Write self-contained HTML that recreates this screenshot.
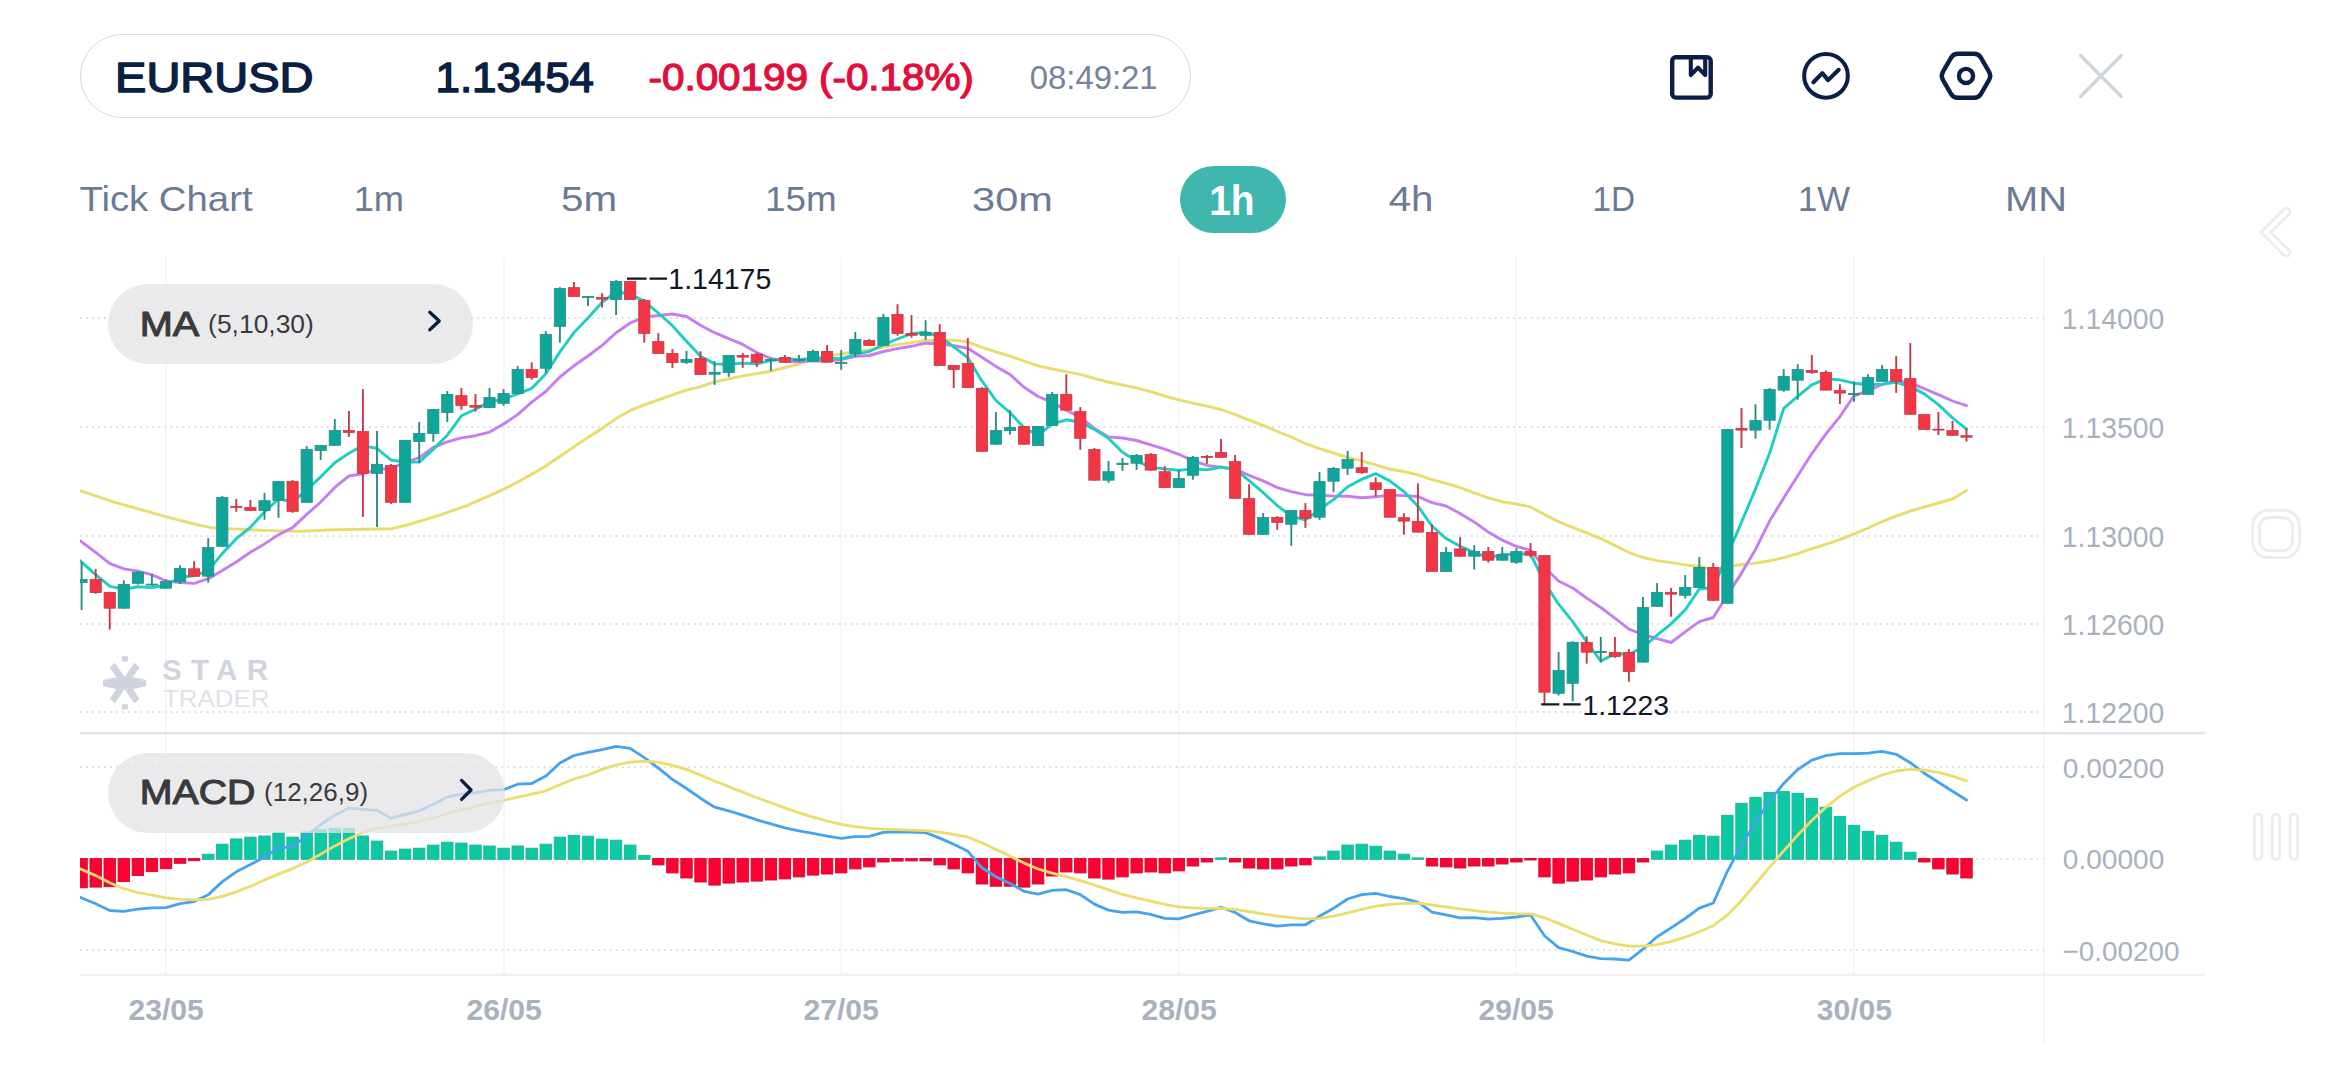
<!DOCTYPE html><html lang="en"><head><meta charset="utf-8"><title>EURUSD 1h chart</title><style>
*{box-sizing:border-box;margin:0;padding:0}
html,body{width:2340px;height:1080px;background:#fff;overflow:hidden}
body{position:relative;font-family:"Liberation Sans",sans-serif;}
.abs{position:absolute;white-space:nowrap;line-height:1}
#hdr{left:80.2px;top:34.3px;width:1111.3px;height:83.3px;border:1.4px solid #d5d8e0;border-radius:42px;background:#fff}
#pill1h{left:1180px;top:166px;width:106.3px;height:67.1px;border-radius:34px;background:#3fb6ae}
.ipill{background:rgba(227,228,231,.76);border-radius:40px}
</style></head><body>
<div id="hdr" class="abs"></div>
<div id="pill1h" class="abs"></div>
<svg class="abs" style="left:0;top:0" width="2340" height="140" viewBox="0 0 2340 140" fill="none" stroke="#0b1f46" stroke-width="4.4" stroke-linejoin="round" stroke-linecap="round">
<rect x="1672.2" y="57.2" width="38.5" height="40.4" rx="3.6"/>
<path d="M1690.8 57.5V75.1L1698 67.6L1705.2 75.1V57.5" stroke-width="4.1"/>
<circle cx="1826" cy="75.8" r="21.85" stroke-width="4"/>
<path d="M1813.4 82.3L1822.3 73.1L1828.1 80.1L1838.7 69.8" stroke-width="4.1"/>
<path d="M1989.1 71.8Q1991.4 75.8 1989.1 79.8L1981.0 93.8Q1978.7 97.8 1974.1 97.8L1957.9 97.8Q1953.3 97.8 1951.0 93.8L1942.9 79.8Q1940.6 75.8 1942.9 71.8L1951.0 57.8Q1953.3 53.8 1957.9 53.8L1974.1 53.8Q1978.7 53.8 1981.0 57.8Z"/>
<circle cx="1966" cy="75.9" r="7.1" stroke-width="4.3"/>
<path d="M2080.6 55.55L2121.2 96.4M2121.2 55.55L2080.6 96.4" stroke="#d1d5dc" stroke-width="3.6"/>
</svg>
<svg class="abs" style="left:2240px;top:190px" width="80" height="700" viewBox="2240 190 80 700" fill="none">
<g stroke="#ececec" stroke-linecap="round" stroke-linejoin="miter" stroke-miterlimit="10">
<path d="M2286.4 211.9L2266 232.2L2286.4 252.6" stroke-width="10"/>
<path d="M2286.4 211.9L2266 232.2L2286.4 252.6" stroke="#fff" stroke-width="4.4"/>
</g>
<rect x="2252.6" y="510.4" width="46.9" height="47.2" rx="15.5" stroke="#ececec" stroke-width="2.8"/>
<rect x="2259.5" y="517.5" width="33.1" height="33.1" rx="10" stroke="#ececec" stroke-width="2.8"/>
<g stroke="#ececec" stroke-width="2.7">
<rect x="2254.4" y="814.1" width="7.5" height="45.6" rx="3.75"/>
<rect x="2272.2" y="814.1" width="7.5" height="45.6" rx="3.75"/>
<rect x="2290.1" y="814.1" width="7.5" height="45.6" rx="3.75"/>
</g>
</svg>
<svg id="chart" class="abs" style="left:0;top:0" width="2340" height="1080" viewBox="0 0 2340 1080"><defs><clipPath id="cp"><rect x="80" y="250" width="1970" height="730"/></clipPath></defs>
<line x1="166" y1="257" x2="166" y2="975" stroke="#f3f4f6" stroke-width="1.5"/>
<line x1="504" y1="257" x2="504" y2="975" stroke="#f3f4f6" stroke-width="1.5"/>
<line x1="841" y1="257" x2="841" y2="975" stroke="#f3f4f6" stroke-width="1.5"/>
<line x1="1179" y1="257" x2="1179" y2="975" stroke="#f3f4f6" stroke-width="1.5"/>
<line x1="1516" y1="257" x2="1516" y2="975" stroke="#f3f4f6" stroke-width="1.5"/>
<line x1="1854" y1="257" x2="1854" y2="975" stroke="#f3f4f6" stroke-width="1.5"/>
<line x1="2044" y1="257" x2="2044" y2="1045" stroke="#f3f4f6" stroke-width="1.6"/>
<line x1="80" y1="318" x2="2044" y2="318" stroke="#dfe0e4" stroke-width="1.9" stroke-dasharray="1.9 4.12"/>
<line x1="80" y1="427" x2="2044" y2="427" stroke="#dfe0e4" stroke-width="1.9" stroke-dasharray="1.9 4.12"/>
<line x1="80" y1="536" x2="2044" y2="536" stroke="#dfe0e4" stroke-width="1.9" stroke-dasharray="1.9 4.12"/>
<line x1="80" y1="624" x2="2044" y2="624" stroke="#dfe0e4" stroke-width="1.9" stroke-dasharray="1.9 4.12"/>
<line x1="80" y1="712" x2="2044" y2="712" stroke="#dfe0e4" stroke-width="1.9" stroke-dasharray="1.9 4.12"/>
<line x1="80" y1="767" x2="2044" y2="767" stroke="#dfe0e4" stroke-width="1.9" stroke-dasharray="1.9 4.12"/>
<line x1="80" y1="858.9" x2="2044" y2="858.9" stroke="#dfe0e4" stroke-width="1.9" stroke-dasharray="1.9 4.12"/>
<line x1="80" y1="950" x2="2044" y2="950" stroke="#dfe0e4" stroke-width="1.9" stroke-dasharray="1.9 4.12"/>
<line x1="80" y1="733.3" x2="2205" y2="733.3" stroke="#e0e3eb" stroke-width="2.6"/>
<line x1="80" y1="974.8" x2="2205" y2="974.8" stroke="#ebedf1" stroke-width="1.9"/>
<g fill="#cfd4de">
<path d="M103 680 L116 677.3 L124.6 676.6 L133.2 677.3 L146.1 680 L146.1 686.3 L133.2 688.9 L124.6 689.6 L116 688.9 L103 686.3Z"/>
<path d="M109.8 667.4 L114.8 662.8 L139.4 698.8 L134.4 703.4Z"/>
<path d="M139.4 667.4 L134.4 662.8 L109.8 698.8 L114.8 703.4Z"/>
<rect x="121.9" y="656.2" width="6" height="5.3"/>
<rect x="121.9" y="704.2" width="6" height="5.3"/>
</g>
<text id="wm1" x="162" y="680" font-family="Liberation Sans, sans-serif" font-weight="700" font-size="29.5" fill="#cfd4de" textLength="106" lengthAdjust="spacing">STAR</text>
<text id="wm2" x="163" y="707.3" font-family="Liberation Sans, sans-serif" font-weight="400" font-size="24.5" fill="#dfe2e9" textLength="106.5" lengthAdjust="spacingAndGlyphs">TRADER</text>
<g clip-path="url(#cp)">
<polyline points="80.0,490.7 114.4,502.2 164.8,516.3 195.9,524.4 210.7,527.7 232.9,528.9 262.6,530.4 300.0,531.4 334.4,529.8 392.2,528.7 408.5,524.6 438.1,515.7 467.7,505.3 489.5,495.6 503.6,489.4 517.7,482.0 531.7,474.3 545.8,465.9 559.9,456.5 573.9,446.9 588.0,437.4 602.1,428.5 616.1,418.6 630.2,410.4 644.3,404.9 658.3,399.8 672.4,394.9 686.5,390.1 700.5,386.6 714.6,381.9 728.7,378.8 742.7,375.9 756.8,373.6 770.9,371.2 784.9,367.5 799.0,364.0 813.1,358.9 827.1,356.3 841.2,354.0 855.3,351.6 869.3,350.0 883.4,347.1 897.5,344.6 911.5,342.6 925.6,340.5 939.7,340.4 953.7,340.1 967.8,341.9 981.9,347.4 995.9,351.8 1010.0,356.2 1024.1,361.0 1038.1,365.9 1052.2,369.0 1066.3,371.6 1080.3,374.4 1094.4,378.3 1108.5,382.1 1122.5,385.0 1136.6,387.8 1150.7,391.6 1164.7,396.0 1178.8,399.8 1192.9,403.1 1206.9,406.2 1221.0,409.5 1235.1,414.5 1249.1,420.2 1263.2,425.4 1277.3,431.5 1291.3,437.0 1305.4,443.7 1319.5,448.6 1333.5,453.0 1347.6,457.3 1361.7,460.8 1375.7,464.8 1389.8,469.1 1403.9,471.5 1417.9,474.9 1432.0,479.7 1446.1,483.3 1460.1,487.6 1474.2,492.9 1488.3,497.9 1502.3,501.7 1516.4,504.1 1530.5,506.9 1544.5,514.6 1558.6,521.7 1572.7,527.4 1586.7,532.9 1600.8,538.7 1614.9,545.4 1628.9,552.5 1643.0,557.5 1657.1,560.6 1671.1,562.6 1685.2,564.9 1699.3,566.4 1713.3,569.4 1727.4,566.4 1741.5,564.7 1755.5,563.1 1769.6,560.8 1783.7,557.6 1797.7,553.6 1811.8,548.7 1825.9,544.4 1839.9,539.7 1854.0,533.8 1868.1,528.0 1882.1,521.7 1896.2,516.1 1910.3,511.2 1924.3,507.0 1938.4,503.0 1952.5,499.0 1966.5,490.5" fill="none" stroke="#e9dc6c" stroke-width="2.9" stroke-linejoin="round" stroke-linecap="round"/>
<polyline points="80.0,540.7 95.9,552.6 110.0,563.7 124.1,568.9 138.1,571.1 152.2,574.8 166.3,581.0 180.3,582.6 194.4,583.4 208.2,578.7 222.3,570.5 236.3,562.0 250.4,552.2 264.5,543.9 278.5,534.8 292.6,527.6 306.7,514.4 320.7,502.1 334.8,487.4 348.9,476.0 362.9,473.7 377.0,469.3 391.1,468.5 405.1,462.4 419.2,457.6 433.3,447.4 447.3,441.8 461.4,437.9 475.5,435.7 489.5,432.1 503.6,424.0 517.7,414.6 531.7,402.1 545.8,391.5 559.9,377.0 573.9,365.8 588.0,356.0 602.1,345.4 616.1,332.7 630.2,323.0 644.3,317.0 658.3,315.5 672.4,314.0 686.5,316.5 700.5,325.2 714.6,332.7 728.7,338.6 742.7,344.4 756.8,352.5 770.9,358.5 784.9,361.3 799.0,361.9 813.1,360.7 827.1,361.0 841.2,359.7 855.3,356.4 869.3,355.5 883.4,351.5 897.5,348.6 911.5,346.3 925.6,343.2 939.7,343.9 953.7,345.8 967.8,348.3 981.9,357.3 995.9,366.4 1010.0,374.5 1024.1,387.3 1038.1,396.5 1052.2,402.3 1066.3,410.2 1080.3,417.4 1094.4,428.5 1108.5,436.9 1122.5,438.0 1136.6,440.5 1150.7,444.8 1164.7,449.1 1178.8,454.3 1192.9,460.6 1206.9,465.4 1221.0,467.3 1235.1,469.1 1249.1,475.4 1263.2,480.9 1277.3,487.6 1291.3,491.6 1305.4,494.7 1319.5,495.0 1333.5,496.1 1347.6,496.2 1361.7,497.7 1375.7,496.8 1389.8,495.1 1403.9,495.6 1417.9,496.5 1432.0,502.7 1446.1,506.0 1460.1,513.6 1474.2,521.9 1488.3,532.1 1502.3,540.2 1516.4,546.4 1530.5,550.2 1544.5,567.3 1558.6,581.0 1572.7,588.0 1586.7,598.1 1600.8,607.5 1614.9,618.1 1628.9,629.2 1643.0,634.5 1657.1,638.6 1671.1,642.5 1685.2,631.9 1699.3,621.6 1713.3,617.5 1727.4,595.1 1741.5,573.1 1755.5,549.4 1769.6,521.1 1783.7,498.0 1797.7,475.8 1811.8,453.6 1825.9,433.9 1839.9,416.6 1854.0,395.8 1868.1,390.6 1882.1,384.5 1896.2,380.6 1910.3,383.2 1924.3,388.6 1938.4,394.7 1952.5,401.0 1966.5,405.7" fill="none" stroke="#c77df0" stroke-width="2.9" stroke-linejoin="round" stroke-linecap="round"/>
<polyline points="80.0,560.7 95.9,574.8 110.0,586.3 123.8,589.2 137.9,586.7 151.9,587.6 166.0,585.3 180.1,577.2 194.1,575.7 208.2,570.8 222.3,553.4 236.3,538.7 250.4,527.3 264.5,512.0 278.5,498.8 292.6,501.8 306.7,490.0 320.7,476.9 334.8,462.8 348.9,453.2 362.9,445.6 377.0,448.5 391.1,460.1 405.1,462.0 419.2,462.1 433.3,449.1 447.3,435.2 461.4,415.8 475.5,409.3 489.5,402.1 503.6,399.0 517.7,394.0 531.7,388.4 545.8,373.7 559.9,351.9 573.9,332.6 588.0,318.0 602.1,302.3 616.1,291.7 630.2,294.0 644.3,301.4 658.3,313.0 672.4,325.7 686.5,341.3 700.5,356.3 714.6,363.9 728.7,364.2 742.7,363.1 756.8,363.8 770.9,360.6 784.9,358.8 799.0,359.6 813.1,358.3 827.1,358.2 841.2,358.8 855.3,354.1 869.3,351.5 883.4,344.7 897.5,339.0 911.5,333.7 925.6,332.3 939.7,336.3 953.7,346.8 967.8,357.7 981.9,380.9 995.9,400.5 1010.0,412.7 1024.1,427.7 1038.1,435.3 1052.2,423.8 1066.3,419.8 1080.3,422.2 1094.4,429.4 1108.5,438.4 1122.5,452.2 1136.6,461.1 1150.7,467.4 1164.7,468.9 1178.8,470.3 1192.9,469.1 1206.9,469.7 1221.0,467.1 1235.1,469.3 1249.1,480.6 1263.2,492.6 1277.3,505.6 1291.3,516.1 1305.4,520.1 1319.5,509.4 1333.5,499.6 1347.6,486.8 1361.7,479.4 1375.7,473.6 1389.8,480.9 1403.9,491.6 1417.9,506.2 1432.0,526.0 1446.1,538.5 1460.1,546.3 1474.2,552.3 1488.3,557.9 1502.3,554.4 1516.4,554.2 1530.5,554.0 1544.5,582.3 1558.6,604.2 1572.7,621.7 1586.7,641.9 1600.8,661.0 1614.9,653.9 1628.9,654.3 1643.0,647.3 1657.1,635.2 1671.1,623.9 1685.2,609.9 1699.3,589.0 1713.3,587.7 1727.4,555.1 1741.5,522.3 1755.5,488.9 1769.6,453.3 1783.7,408.4 1797.7,396.4 1811.8,384.9 1825.9,378.9 1839.9,379.8 1854.0,383.2 1868.1,384.8 1882.1,384.1 1896.2,382.3 1910.3,386.6 1924.3,393.9 1938.4,404.6 1952.5,417.9 1966.5,429.1" fill="none" stroke="#1ccfc2" stroke-width="2.9" stroke-linejoin="round" stroke-linecap="round"/>
<line x1="81.6" y1="562.2" x2="81.6" y2="610.0" stroke="#2b8b82" stroke-width="1.9"/>
<rect x="76.0" y="579.6" width="11.2" height="3.0" fill="#0ea69a" stroke="#2b8b82" stroke-width="0.8"/>
<line x1="95.7" y1="568.9" x2="95.7" y2="593.8" stroke="#c63846" stroke-width="1.9"/>
<rect x="90.1" y="579.6" width="11.2" height="12.9" fill="#f23645" stroke="#c63846" stroke-width="0.8"/>
<line x1="109.7" y1="592.1" x2="109.7" y2="629.6" stroke="#c63846" stroke-width="1.9"/>
<rect x="104.1" y="592.5" width="11.2" height="15.7" fill="#f23645" stroke="#c63846" stroke-width="0.8"/>
<line x1="123.8" y1="580.3" x2="123.8" y2="608.6" stroke="#2b8b82" stroke-width="1.9"/>
<rect x="118.2" y="584.5" width="11.2" height="23.7" fill="#0ea69a" stroke="#2b8b82" stroke-width="0.8"/>
<line x1="137.9" y1="571.0" x2="137.9" y2="584.7" stroke="#2b8b82" stroke-width="1.9"/>
<rect x="132.3" y="572.2" width="11.2" height="11.1" fill="#0ea69a" stroke="#2b8b82" stroke-width="0.8"/>
<line x1="151.9" y1="574.0" x2="151.9" y2="585.9" stroke="#2b8b82" stroke-width="1.9"/>
<rect x="146.3" y="584.1" width="11.2" height="1.0" fill="#0ea69a" stroke="#2b8b82" stroke-width="0.8"/>
<line x1="166.0" y1="579.5" x2="166.0" y2="588.6" stroke="#2b8b82" stroke-width="1.9"/>
<rect x="160.4" y="581.6" width="11.2" height="6.6" fill="#0ea69a" stroke="#2b8b82" stroke-width="0.8"/>
<line x1="180.1" y1="565.2" x2="180.1" y2="583.7" stroke="#2b8b82" stroke-width="1.9"/>
<rect x="174.5" y="568.5" width="11.2" height="13.3" fill="#0ea69a" stroke="#2b8b82" stroke-width="0.8"/>
<line x1="194.1" y1="561.2" x2="194.1" y2="576.7" stroke="#c63846" stroke-width="1.9"/>
<rect x="188.5" y="568.8" width="11.2" height="7.5" fill="#f23645" stroke="#c63846" stroke-width="0.8"/>
<line x1="208.2" y1="538.2" x2="208.2" y2="582.6" stroke="#2b8b82" stroke-width="1.9"/>
<rect x="202.6" y="547.5" width="11.2" height="28.7" fill="#0ea69a" stroke="#2b8b82" stroke-width="0.8"/>
<line x1="222.3" y1="496.0" x2="222.3" y2="546.7" stroke="#2b8b82" stroke-width="1.9"/>
<rect x="216.7" y="497.4" width="11.2" height="48.9" fill="#0ea69a" stroke="#2b8b82" stroke-width="0.8"/>
<line x1="236.3" y1="499.0" x2="236.3" y2="511.8" stroke="#c63846" stroke-width="1.9"/>
<rect x="230.7" y="506.3" width="11.2" height="1.1" fill="#f23645" stroke="#c63846" stroke-width="0.8"/>
<line x1="250.4" y1="500.0" x2="250.4" y2="510.8" stroke="#c63846" stroke-width="1.9"/>
<rect x="244.8" y="507.4" width="11.2" height="3.0" fill="#f23645" stroke="#c63846" stroke-width="0.8"/>
<line x1="264.5" y1="493.0" x2="264.5" y2="519.7" stroke="#2b8b82" stroke-width="1.9"/>
<rect x="258.9" y="500.7" width="11.2" height="9.7" fill="#0ea69a" stroke="#2b8b82" stroke-width="0.8"/>
<line x1="278.5" y1="481.2" x2="278.5" y2="517.8" stroke="#2b8b82" stroke-width="1.9"/>
<rect x="272.9" y="481.6" width="11.2" height="18.7" fill="#0ea69a" stroke="#2b8b82" stroke-width="0.8"/>
<line x1="292.6" y1="480.0" x2="292.6" y2="512.8" stroke="#c63846" stroke-width="1.9"/>
<rect x="287.0" y="481.4" width="11.2" height="29.9" fill="#f23645" stroke="#c63846" stroke-width="0.8"/>
<line x1="306.7" y1="446.1" x2="306.7" y2="502.7" stroke="#2b8b82" stroke-width="1.9"/>
<rect x="301.1" y="449.5" width="11.2" height="52.8" fill="#0ea69a" stroke="#2b8b82" stroke-width="0.8"/>
<line x1="320.7" y1="445.1" x2="320.7" y2="459.9" stroke="#2b8b82" stroke-width="1.9"/>
<rect x="315.1" y="445.5" width="11.2" height="4.9" fill="#0ea69a" stroke="#2b8b82" stroke-width="0.8"/>
<line x1="334.8" y1="419.0" x2="334.8" y2="445.7" stroke="#2b8b82" stroke-width="1.9"/>
<rect x="329.2" y="430.5" width="11.2" height="14.8" fill="#0ea69a" stroke="#2b8b82" stroke-width="0.8"/>
<line x1="348.9" y1="411.0" x2="348.9" y2="436.9" stroke="#c63846" stroke-width="1.9"/>
<rect x="343.3" y="430.5" width="11.2" height="1.9" fill="#f23645" stroke="#c63846" stroke-width="0.8"/>
<line x1="362.9" y1="389.1" x2="362.9" y2="516.9" stroke="#c63846" stroke-width="1.9"/>
<rect x="357.3" y="431.4" width="11.2" height="42.0" fill="#f23645" stroke="#c63846" stroke-width="0.8"/>
<line x1="377.0" y1="431.0" x2="377.0" y2="527.1" stroke="#2b8b82" stroke-width="1.9"/>
<rect x="371.4" y="464.3" width="11.2" height="9.1" fill="#0ea69a" stroke="#2b8b82" stroke-width="0.8"/>
<line x1="391.1" y1="463.9" x2="391.1" y2="503.9" stroke="#c63846" stroke-width="1.9"/>
<rect x="385.5" y="465.5" width="11.2" height="36.8" fill="#f23645" stroke="#c63846" stroke-width="0.8"/>
<line x1="405.1" y1="439.9" x2="405.1" y2="502.7" stroke="#2b8b82" stroke-width="1.9"/>
<rect x="399.5" y="440.3" width="11.2" height="62.0" fill="#0ea69a" stroke="#2b8b82" stroke-width="0.8"/>
<line x1="419.2" y1="422.1" x2="419.2" y2="463.1" stroke="#2b8b82" stroke-width="1.9"/>
<rect x="413.6" y="433.5" width="11.2" height="8.0" fill="#0ea69a" stroke="#2b8b82" stroke-width="0.8"/>
<line x1="433.3" y1="409.1" x2="433.3" y2="441.7" stroke="#2b8b82" stroke-width="1.9"/>
<rect x="427.7" y="409.5" width="11.2" height="23.9" fill="#0ea69a" stroke="#2b8b82" stroke-width="0.8"/>
<line x1="447.3" y1="391.0" x2="447.3" y2="422.0" stroke="#2b8b82" stroke-width="1.9"/>
<rect x="441.7" y="394.4" width="11.2" height="18.0" fill="#0ea69a" stroke="#2b8b82" stroke-width="0.8"/>
<line x1="461.4" y1="388.0" x2="461.4" y2="409.8" stroke="#c63846" stroke-width="1.9"/>
<rect x="455.8" y="395.7" width="11.2" height="9.7" fill="#f23645" stroke="#c63846" stroke-width="0.8"/>
<line x1="475.5" y1="394.0" x2="475.5" y2="411.6" stroke="#c63846" stroke-width="1.9"/>
<rect x="469.9" y="405.5" width="11.2" height="1.7" fill="#f23645" stroke="#c63846" stroke-width="0.8"/>
<line x1="489.5" y1="388.0" x2="489.5" y2="407.9" stroke="#2b8b82" stroke-width="1.9"/>
<rect x="483.9" y="397.6" width="11.2" height="9.9" fill="#0ea69a" stroke="#2b8b82" stroke-width="0.8"/>
<line x1="503.6" y1="389.1" x2="503.6" y2="405.8" stroke="#2b8b82" stroke-width="1.9"/>
<rect x="498.0" y="393.6" width="11.2" height="9.7" fill="#0ea69a" stroke="#2b8b82" stroke-width="0.8"/>
<line x1="517.7" y1="366.1" x2="517.7" y2="393.9" stroke="#2b8b82" stroke-width="1.9"/>
<rect x="512.1" y="369.5" width="11.2" height="24.0" fill="#0ea69a" stroke="#2b8b82" stroke-width="0.8"/>
<line x1="531.7" y1="362.3" x2="531.7" y2="379.8" stroke="#c63846" stroke-width="1.9"/>
<rect x="526.1" y="369.5" width="11.2" height="7.9" fill="#f23645" stroke="#c63846" stroke-width="0.8"/>
<line x1="545.8" y1="331.2" x2="545.8" y2="372.8" stroke="#2b8b82" stroke-width="1.9"/>
<rect x="540.2" y="334.5" width="11.2" height="33.7" fill="#0ea69a" stroke="#2b8b82" stroke-width="0.8"/>
<line x1="559.9" y1="287.2" x2="559.9" y2="342.7" stroke="#2b8b82" stroke-width="1.9"/>
<rect x="554.3" y="288.6" width="11.2" height="37.7" fill="#0ea69a" stroke="#2b8b82" stroke-width="0.8"/>
<line x1="573.9" y1="282.0" x2="573.9" y2="296.8" stroke="#c63846" stroke-width="1.9"/>
<rect x="568.3" y="287.6" width="11.2" height="8.8" fill="#f23645" stroke="#c63846" stroke-width="0.8"/>
<line x1="588.0" y1="296.1" x2="588.0" y2="306.0" stroke="#2b8b82" stroke-width="1.9"/>
<rect x="582.4" y="296.5" width="11.2" height="1.1" fill="#0ea69a" stroke="#2b8b82" stroke-width="0.8"/>
<line x1="602.1" y1="293.1" x2="602.1" y2="307.6" stroke="#c63846" stroke-width="1.9"/>
<rect x="596.5" y="297.5" width="11.2" height="1.6" fill="#f23645" stroke="#c63846" stroke-width="0.8"/>
<line x1="616.1" y1="280.1" x2="616.1" y2="314.9" stroke="#2b8b82" stroke-width="1.9"/>
<rect x="610.5" y="281.4" width="11.2" height="18.0" fill="#0ea69a" stroke="#2b8b82" stroke-width="0.8"/>
<line x1="630.2" y1="281.0" x2="630.2" y2="299.8" stroke="#c63846" stroke-width="1.9"/>
<rect x="624.6" y="281.4" width="11.2" height="18.0" fill="#f23645" stroke="#c63846" stroke-width="0.8"/>
<line x1="644.3" y1="299.0" x2="644.3" y2="342.7" stroke="#c63846" stroke-width="1.9"/>
<rect x="638.7" y="300.5" width="11.2" height="32.9" fill="#f23645" stroke="#c63846" stroke-width="0.8"/>
<line x1="658.3" y1="333.1" x2="658.3" y2="353.8" stroke="#c63846" stroke-width="1.9"/>
<rect x="652.7" y="341.6" width="11.2" height="11.8" fill="#f23645" stroke="#c63846" stroke-width="0.8"/>
<line x1="672.4" y1="349.1" x2="672.4" y2="367.9" stroke="#c63846" stroke-width="1.9"/>
<rect x="666.8" y="353.5" width="11.2" height="9.1" fill="#f23645" stroke="#c63846" stroke-width="0.8"/>
<line x1="686.5" y1="350.9" x2="686.5" y2="363.9" stroke="#2b8b82" stroke-width="1.9"/>
<rect x="680.9" y="359.4" width="11.2" height="2.9" fill="#0ea69a" stroke="#2b8b82" stroke-width="0.8"/>
<line x1="700.5" y1="351.2" x2="700.5" y2="374.9" stroke="#c63846" stroke-width="1.9"/>
<rect x="694.9" y="358.4" width="11.2" height="16.1" fill="#f23645" stroke="#c63846" stroke-width="0.8"/>
<line x1="714.6" y1="361.2" x2="714.6" y2="384.9" stroke="#2b8b82" stroke-width="1.9"/>
<rect x="709.0" y="372.3" width="11.2" height="1.9" fill="#0ea69a" stroke="#2b8b82" stroke-width="0.8"/>
<line x1="728.7" y1="355.0" x2="728.7" y2="376.8" stroke="#2b8b82" stroke-width="1.9"/>
<rect x="723.1" y="355.4" width="11.2" height="17.0" fill="#0ea69a" stroke="#2b8b82" stroke-width="0.8"/>
<line x1="742.7" y1="353.1" x2="742.7" y2="367.9" stroke="#c63846" stroke-width="1.9"/>
<rect x="737.1" y="355.4" width="11.2" height="1.7" fill="#f23645" stroke="#c63846" stroke-width="0.8"/>
<line x1="756.8" y1="352.6" x2="756.8" y2="366.9" stroke="#c63846" stroke-width="1.9"/>
<rect x="751.2" y="354.2" width="11.2" height="8.1" fill="#f23645" stroke="#c63846" stroke-width="0.8"/>
<line x1="770.9" y1="358.0" x2="770.9" y2="370.9" stroke="#2b8b82" stroke-width="1.9"/>
<rect x="765.3" y="359.4" width="11.2" height="1.1" fill="#0ea69a" stroke="#2b8b82" stroke-width="0.8"/>
<line x1="784.9" y1="355.0" x2="784.9" y2="362.7" stroke="#c63846" stroke-width="1.9"/>
<rect x="779.3" y="357.5" width="11.2" height="4.8" fill="#f23645" stroke="#c63846" stroke-width="0.8"/>
<line x1="799.0" y1="355.0" x2="799.0" y2="362.0" stroke="#2b8b82" stroke-width="1.9"/>
<rect x="793.4" y="359.4" width="11.2" height="1.4" fill="#0ea69a" stroke="#2b8b82" stroke-width="0.8"/>
<line x1="813.1" y1="349.7" x2="813.1" y2="361.6" stroke="#2b8b82" stroke-width="1.9"/>
<rect x="807.5" y="351.4" width="11.2" height="9.8" fill="#0ea69a" stroke="#2b8b82" stroke-width="0.8"/>
<line x1="827.1" y1="345.1" x2="827.1" y2="362.5" stroke="#c63846" stroke-width="1.9"/>
<rect x="821.5" y="351.4" width="11.2" height="10.7" fill="#f23645" stroke="#c63846" stroke-width="0.8"/>
<line x1="841.2" y1="350.1" x2="841.2" y2="369.8" stroke="#2b8b82" stroke-width="1.9"/>
<rect x="835.6" y="362.4" width="11.2" height="1.1" fill="#0ea69a" stroke="#2b8b82" stroke-width="0.8"/>
<line x1="855.3" y1="332.0" x2="855.3" y2="357.2" stroke="#2b8b82" stroke-width="1.9"/>
<rect x="849.7" y="339.4" width="11.2" height="14.2" fill="#0ea69a" stroke="#2b8b82" stroke-width="0.8"/>
<line x1="869.3" y1="339.1" x2="869.3" y2="345.8" stroke="#c63846" stroke-width="1.9"/>
<rect x="863.7" y="340.6" width="11.2" height="4.8" fill="#f23645" stroke="#c63846" stroke-width="0.8"/>
<line x1="883.4" y1="314.0" x2="883.4" y2="345.8" stroke="#2b8b82" stroke-width="1.9"/>
<rect x="877.8" y="317.6" width="11.2" height="27.8" fill="#0ea69a" stroke="#2b8b82" stroke-width="0.8"/>
<line x1="897.5" y1="304.2" x2="897.5" y2="335.7" stroke="#c63846" stroke-width="1.9"/>
<rect x="891.9" y="314.4" width="11.2" height="19.0" fill="#f23645" stroke="#c63846" stroke-width="0.8"/>
<line x1="911.5" y1="315.0" x2="911.5" y2="337.7" stroke="#c63846" stroke-width="1.9"/>
<rect x="905.9" y="333.6" width="11.2" height="1.7" fill="#f23645" stroke="#c63846" stroke-width="0.8"/>
<line x1="925.6" y1="320.2" x2="925.6" y2="339.9" stroke="#2b8b82" stroke-width="1.9"/>
<rect x="920.0" y="332.4" width="11.2" height="2.9" fill="#0ea69a" stroke="#2b8b82" stroke-width="0.8"/>
<line x1="939.7" y1="324.2" x2="939.7" y2="365.8" stroke="#c63846" stroke-width="1.9"/>
<rect x="934.1" y="332.4" width="11.2" height="33.0" fill="#f23645" stroke="#c63846" stroke-width="0.8"/>
<line x1="953.7" y1="365.1" x2="953.7" y2="388.0" stroke="#c63846" stroke-width="1.9"/>
<rect x="948.1" y="365.5" width="11.2" height="3.9" fill="#f23645" stroke="#c63846" stroke-width="0.8"/>
<line x1="967.8" y1="338.0" x2="967.8" y2="388.0" stroke="#c63846" stroke-width="1.9"/>
<rect x="962.2" y="363.5" width="11.2" height="24.1" fill="#f23645" stroke="#c63846" stroke-width="0.8"/>
<line x1="981.9" y1="387.1" x2="981.9" y2="451.7" stroke="#c63846" stroke-width="1.9"/>
<rect x="976.3" y="388.4" width="11.2" height="62.9" fill="#f23645" stroke="#c63846" stroke-width="0.8"/>
<line x1="995.9" y1="412.0" x2="995.9" y2="444.6" stroke="#2b8b82" stroke-width="1.9"/>
<rect x="990.3" y="430.5" width="11.2" height="13.7" fill="#0ea69a" stroke="#2b8b82" stroke-width="0.8"/>
<line x1="1010.0" y1="410.2" x2="1010.0" y2="434.7" stroke="#2b8b82" stroke-width="1.9"/>
<rect x="1004.4" y="427.5" width="11.2" height="3.1" fill="#0ea69a" stroke="#2b8b82" stroke-width="0.8"/>
<line x1="1024.1" y1="426.1" x2="1024.1" y2="444.6" stroke="#c63846" stroke-width="1.9"/>
<rect x="1018.5" y="426.5" width="11.2" height="17.7" fill="#f23645" stroke="#c63846" stroke-width="0.8"/>
<line x1="1038.1" y1="426.1" x2="1038.1" y2="445.8" stroke="#2b8b82" stroke-width="1.9"/>
<rect x="1032.5" y="426.5" width="11.2" height="18.9" fill="#0ea69a" stroke="#2b8b82" stroke-width="0.8"/>
<line x1="1052.2" y1="392.0" x2="1052.2" y2="425.8" stroke="#2b8b82" stroke-width="1.9"/>
<rect x="1046.6" y="394.3" width="11.2" height="31.1" fill="#0ea69a" stroke="#2b8b82" stroke-width="0.8"/>
<line x1="1066.3" y1="374.2" x2="1066.3" y2="410.5" stroke="#c63846" stroke-width="1.9"/>
<rect x="1060.7" y="394.3" width="11.2" height="15.8" fill="#f23645" stroke="#c63846" stroke-width="0.8"/>
<line x1="1080.3" y1="407.1" x2="1080.3" y2="449.8" stroke="#c63846" stroke-width="1.9"/>
<rect x="1074.7" y="411.6" width="11.2" height="26.7" fill="#f23645" stroke="#c63846" stroke-width="0.8"/>
<line x1="1094.4" y1="448.0" x2="1094.4" y2="480.6" stroke="#c63846" stroke-width="1.9"/>
<rect x="1088.8" y="449.5" width="11.2" height="30.7" fill="#f23645" stroke="#c63846" stroke-width="0.8"/>
<line x1="1108.5" y1="460.9" x2="1108.5" y2="482.8" stroke="#2b8b82" stroke-width="1.9"/>
<rect x="1102.9" y="471.7" width="11.2" height="8.5" fill="#0ea69a" stroke="#2b8b82" stroke-width="0.8"/>
<line x1="1122.5" y1="457.9" x2="1122.5" y2="470.8" stroke="#2b8b82" stroke-width="1.9"/>
<rect x="1116.9" y="463.2" width="11.2" height="1.3" fill="#0ea69a" stroke="#2b8b82" stroke-width="0.8"/>
<line x1="1136.6" y1="454.0" x2="1136.6" y2="469.8" stroke="#2b8b82" stroke-width="1.9"/>
<rect x="1131.0" y="455.4" width="11.2" height="7.8" fill="#0ea69a" stroke="#2b8b82" stroke-width="0.8"/>
<line x1="1150.7" y1="453.0" x2="1150.7" y2="470.5" stroke="#c63846" stroke-width="1.9"/>
<rect x="1145.1" y="454.4" width="11.2" height="15.7" fill="#f23645" stroke="#c63846" stroke-width="0.8"/>
<line x1="1164.7" y1="466.1" x2="1164.7" y2="487.9" stroke="#c63846" stroke-width="1.9"/>
<rect x="1159.1" y="471.7" width="11.2" height="15.8" fill="#f23645" stroke="#c63846" stroke-width="0.8"/>
<line x1="1178.8" y1="470.2" x2="1178.8" y2="487.9" stroke="#2b8b82" stroke-width="1.9"/>
<rect x="1173.2" y="478.6" width="11.2" height="8.9" fill="#0ea69a" stroke="#2b8b82" stroke-width="0.8"/>
<line x1="1192.9" y1="456.0" x2="1192.9" y2="479.7" stroke="#2b8b82" stroke-width="1.9"/>
<rect x="1187.3" y="457.3" width="11.2" height="18.0" fill="#0ea69a" stroke="#2b8b82" stroke-width="0.8"/>
<line x1="1206.9" y1="455.0" x2="1206.9" y2="463.9" stroke="#c63846" stroke-width="1.9"/>
<rect x="1201.3" y="456.4" width="11.2" height="1.1" fill="#f23645" stroke="#c63846" stroke-width="0.8"/>
<line x1="1221.0" y1="439.0" x2="1221.0" y2="457.7" stroke="#c63846" stroke-width="1.9"/>
<rect x="1215.4" y="452.4" width="11.2" height="4.9" fill="#f23645" stroke="#c63846" stroke-width="0.8"/>
<line x1="1235.1" y1="455.0" x2="1235.1" y2="498.7" stroke="#c63846" stroke-width="1.9"/>
<rect x="1229.5" y="461.6" width="11.2" height="36.7" fill="#f23645" stroke="#c63846" stroke-width="0.8"/>
<line x1="1249.1" y1="484.2" x2="1249.1" y2="534.7" stroke="#c63846" stroke-width="1.9"/>
<rect x="1243.5" y="498.6" width="11.2" height="35.7" fill="#f23645" stroke="#c63846" stroke-width="0.8"/>
<line x1="1263.2" y1="513.0" x2="1263.2" y2="534.7" stroke="#2b8b82" stroke-width="1.9"/>
<rect x="1257.6" y="517.6" width="11.2" height="16.7" fill="#0ea69a" stroke="#2b8b82" stroke-width="0.8"/>
<line x1="1277.3" y1="516.2" x2="1277.3" y2="529.8" stroke="#c63846" stroke-width="1.9"/>
<rect x="1271.7" y="517.6" width="11.2" height="4.7" fill="#f23645" stroke="#c63846" stroke-width="0.8"/>
<line x1="1291.3" y1="510.2" x2="1291.3" y2="545.8" stroke="#2b8b82" stroke-width="1.9"/>
<rect x="1285.7" y="510.6" width="11.2" height="13.6" fill="#0ea69a" stroke="#2b8b82" stroke-width="0.8"/>
<line x1="1305.4" y1="503.1" x2="1305.4" y2="527.9" stroke="#c63846" stroke-width="1.9"/>
<rect x="1299.8" y="510.6" width="11.2" height="7.7" fill="#f23645" stroke="#c63846" stroke-width="0.8"/>
<line x1="1319.5" y1="472.0" x2="1319.5" y2="519.9" stroke="#2b8b82" stroke-width="1.9"/>
<rect x="1313.9" y="481.6" width="11.2" height="35.6" fill="#0ea69a" stroke="#2b8b82" stroke-width="0.8"/>
<line x1="1333.5" y1="467.1" x2="1333.5" y2="492.0" stroke="#2b8b82" stroke-width="1.9"/>
<rect x="1327.9" y="468.4" width="11.2" height="12.8" fill="#0ea69a" stroke="#2b8b82" stroke-width="0.8"/>
<line x1="1347.6" y1="451.0" x2="1347.6" y2="475.0" stroke="#2b8b82" stroke-width="1.9"/>
<rect x="1342.0" y="459.5" width="11.2" height="8.7" fill="#0ea69a" stroke="#2b8b82" stroke-width="0.8"/>
<line x1="1361.7" y1="452.0" x2="1361.7" y2="473.8" stroke="#c63846" stroke-width="1.9"/>
<rect x="1356.1" y="467.7" width="11.2" height="4.7" fill="#f23645" stroke="#c63846" stroke-width="0.8"/>
<line x1="1375.7" y1="477.2" x2="1375.7" y2="496.5" stroke="#c63846" stroke-width="1.9"/>
<rect x="1370.1" y="482.8" width="11.2" height="6.6" fill="#f23645" stroke="#c63846" stroke-width="0.8"/>
<line x1="1389.8" y1="489.2" x2="1389.8" y2="517.6" stroke="#c63846" stroke-width="1.9"/>
<rect x="1384.2" y="489.6" width="11.2" height="27.6" fill="#f23645" stroke="#c63846" stroke-width="0.8"/>
<line x1="1403.9" y1="513.1" x2="1403.9" y2="534.7" stroke="#c63846" stroke-width="1.9"/>
<rect x="1398.3" y="517.7" width="11.2" height="3.4" fill="#f23645" stroke="#c63846" stroke-width="0.8"/>
<line x1="1417.9" y1="483.3" x2="1417.9" y2="532.5" stroke="#c63846" stroke-width="1.9"/>
<rect x="1412.3" y="521.5" width="11.2" height="10.6" fill="#f23645" stroke="#c63846" stroke-width="0.8"/>
<line x1="1432.0" y1="524.5" x2="1432.0" y2="571.8" stroke="#c63846" stroke-width="1.9"/>
<rect x="1426.4" y="532.6" width="11.2" height="38.8" fill="#f23645" stroke="#c63846" stroke-width="0.8"/>
<line x1="1446.1" y1="547.0" x2="1446.1" y2="571.8" stroke="#2b8b82" stroke-width="1.9"/>
<rect x="1440.5" y="552.6" width="11.2" height="18.8" fill="#0ea69a" stroke="#2b8b82" stroke-width="0.8"/>
<line x1="1460.1" y1="537.1" x2="1460.1" y2="556.6" stroke="#c63846" stroke-width="1.9"/>
<rect x="1454.5" y="548.9" width="11.2" height="7.3" fill="#f23645" stroke="#c63846" stroke-width="0.8"/>
<line x1="1474.2" y1="545.2" x2="1474.2" y2="569.5" stroke="#2b8b82" stroke-width="1.9"/>
<rect x="1468.6" y="551.6" width="11.2" height="4.6" fill="#0ea69a" stroke="#2b8b82" stroke-width="0.8"/>
<line x1="1488.3" y1="547.0" x2="1488.3" y2="562.6" stroke="#c63846" stroke-width="1.9"/>
<rect x="1482.7" y="551.6" width="11.2" height="8.6" fill="#f23645" stroke="#c63846" stroke-width="0.8"/>
<line x1="1502.3" y1="547.0" x2="1502.3" y2="560.6" stroke="#2b8b82" stroke-width="1.9"/>
<rect x="1496.7" y="554.8" width="11.2" height="5.4" fill="#0ea69a" stroke="#2b8b82" stroke-width="0.8"/>
<line x1="1516.4" y1="548.2" x2="1516.4" y2="563.8" stroke="#2b8b82" stroke-width="1.9"/>
<rect x="1510.8" y="551.6" width="11.2" height="10.6" fill="#0ea69a" stroke="#2b8b82" stroke-width="0.8"/>
<line x1="1530.5" y1="543.0" x2="1530.5" y2="557.4" stroke="#c63846" stroke-width="1.9"/>
<rect x="1524.9" y="551.6" width="11.2" height="3.6" fill="#f23645" stroke="#c63846" stroke-width="0.8"/>
<line x1="1544.5" y1="555.2" x2="1544.5" y2="704.4" stroke="#c63846" stroke-width="1.9"/>
<rect x="1538.9" y="555.6" width="11.2" height="136.6" fill="#f23645" stroke="#c63846" stroke-width="0.8"/>
<line x1="1558.6" y1="652.1" x2="1558.6" y2="695.5" stroke="#2b8b82" stroke-width="1.9"/>
<rect x="1553.0" y="670.4" width="11.2" height="22.9" fill="#0ea69a" stroke="#2b8b82" stroke-width="0.8"/>
<line x1="1572.7" y1="641.2" x2="1572.7" y2="701.4" stroke="#2b8b82" stroke-width="1.9"/>
<rect x="1567.1" y="642.3" width="11.2" height="41.0" fill="#0ea69a" stroke="#2b8b82" stroke-width="0.8"/>
<line x1="1586.7" y1="636.3" x2="1586.7" y2="663.7" stroke="#c63846" stroke-width="1.9"/>
<rect x="1581.1" y="642.6" width="11.2" height="9.6" fill="#f23645" stroke="#c63846" stroke-width="0.8"/>
<line x1="1600.8" y1="637.0" x2="1600.8" y2="662.6" stroke="#2b8b82" stroke-width="1.9"/>
<rect x="1595.2" y="651.5" width="11.2" height="1.1" fill="#0ea69a" stroke="#2b8b82" stroke-width="0.8"/>
<line x1="1614.9" y1="637.0" x2="1614.9" y2="657.8" stroke="#c63846" stroke-width="1.9"/>
<rect x="1609.3" y="652.5" width="11.2" height="4.1" fill="#f23645" stroke="#c63846" stroke-width="0.8"/>
<line x1="1628.9" y1="648.9" x2="1628.9" y2="681.8" stroke="#c63846" stroke-width="1.9"/>
<rect x="1623.3" y="652.5" width="11.2" height="18.9" fill="#f23645" stroke="#c63846" stroke-width="0.8"/>
<line x1="1643.0" y1="597.0" x2="1643.0" y2="662.5" stroke="#2b8b82" stroke-width="1.9"/>
<rect x="1637.4" y="607.5" width="11.2" height="54.6" fill="#0ea69a" stroke="#2b8b82" stroke-width="0.8"/>
<line x1="1657.1" y1="583.1" x2="1657.1" y2="606.7" stroke="#2b8b82" stroke-width="1.9"/>
<rect x="1651.5" y="592.5" width="11.2" height="13.8" fill="#0ea69a" stroke="#2b8b82" stroke-width="0.8"/>
<line x1="1671.1" y1="588.0" x2="1671.1" y2="616.7" stroke="#c63846" stroke-width="1.9"/>
<rect x="1665.5" y="592.5" width="11.2" height="1.7" fill="#f23645" stroke="#c63846" stroke-width="0.8"/>
<line x1="1685.2" y1="575.1" x2="1685.2" y2="598.7" stroke="#2b8b82" stroke-width="1.9"/>
<rect x="1679.6" y="587.4" width="11.2" height="7.9" fill="#0ea69a" stroke="#2b8b82" stroke-width="0.8"/>
<line x1="1699.3" y1="557.1" x2="1699.3" y2="587.8" stroke="#2b8b82" stroke-width="1.9"/>
<rect x="1693.7" y="567.4" width="11.2" height="20.0" fill="#0ea69a" stroke="#2b8b82" stroke-width="0.8"/>
<line x1="1713.3" y1="563.0" x2="1713.3" y2="600.7" stroke="#c63846" stroke-width="1.9"/>
<rect x="1707.7" y="567.4" width="11.2" height="32.9" fill="#f23645" stroke="#c63846" stroke-width="0.8"/>
<line x1="1727.4" y1="429.1" x2="1727.4" y2="603.7" stroke="#2b8b82" stroke-width="1.9"/>
<rect x="1721.8" y="429.5" width="11.2" height="173.8" fill="#0ea69a" stroke="#2b8b82" stroke-width="0.8"/>
<line x1="1741.5" y1="408.0" x2="1741.5" y2="447.9" stroke="#c63846" stroke-width="1.9"/>
<rect x="1735.9" y="428.4" width="11.2" height="1.7" fill="#f23645" stroke="#c63846" stroke-width="0.8"/>
<line x1="1755.5" y1="404.2" x2="1755.5" y2="438.7" stroke="#2b8b82" stroke-width="1.9"/>
<rect x="1749.9" y="420.6" width="11.2" height="9.5" fill="#0ea69a" stroke="#2b8b82" stroke-width="0.8"/>
<line x1="1769.6" y1="388.0" x2="1769.6" y2="429.8" stroke="#2b8b82" stroke-width="1.9"/>
<rect x="1764.0" y="389.5" width="11.2" height="30.7" fill="#0ea69a" stroke="#2b8b82" stroke-width="0.8"/>
<line x1="1783.7" y1="369.1" x2="1783.7" y2="391.7" stroke="#2b8b82" stroke-width="1.9"/>
<rect x="1778.1" y="376.6" width="11.2" height="13.5" fill="#0ea69a" stroke="#2b8b82" stroke-width="0.8"/>
<line x1="1797.7" y1="364.2" x2="1797.7" y2="399.7" stroke="#2b8b82" stroke-width="1.9"/>
<rect x="1792.1" y="369.5" width="11.2" height="10.7" fill="#0ea69a" stroke="#2b8b82" stroke-width="0.8"/>
<line x1="1811.8" y1="355.0" x2="1811.8" y2="373.8" stroke="#c63846" stroke-width="1.9"/>
<rect x="1806.2" y="370.5" width="11.2" height="1.9" fill="#f23645" stroke="#c63846" stroke-width="0.8"/>
<line x1="1825.9" y1="370.3" x2="1825.9" y2="390.5" stroke="#c63846" stroke-width="1.9"/>
<rect x="1820.3" y="372.4" width="11.2" height="17.7" fill="#f23645" stroke="#c63846" stroke-width="0.8"/>
<line x1="1839.9" y1="384.2" x2="1839.9" y2="403.9" stroke="#c63846" stroke-width="1.9"/>
<rect x="1834.3" y="390.6" width="11.2" height="2.5" fill="#f23645" stroke="#c63846" stroke-width="0.8"/>
<line x1="1854.0" y1="381.2" x2="1854.0" y2="401.7" stroke="#2b8b82" stroke-width="1.9"/>
<rect x="1848.4" y="393.6" width="11.2" height="1.0" fill="#0ea69a" stroke="#2b8b82" stroke-width="0.8"/>
<line x1="1868.1" y1="374.3" x2="1868.1" y2="394.7" stroke="#2b8b82" stroke-width="1.9"/>
<rect x="1862.5" y="377.6" width="11.2" height="16.7" fill="#0ea69a" stroke="#2b8b82" stroke-width="0.8"/>
<line x1="1882.1" y1="365.1" x2="1882.1" y2="381.7" stroke="#2b8b82" stroke-width="1.9"/>
<rect x="1876.5" y="369.5" width="11.2" height="11.8" fill="#0ea69a" stroke="#2b8b82" stroke-width="0.8"/>
<line x1="1896.2" y1="356.2" x2="1896.2" y2="392.8" stroke="#c63846" stroke-width="1.9"/>
<rect x="1890.6" y="369.5" width="11.2" height="11.8" fill="#f23645" stroke="#c63846" stroke-width="0.8"/>
<line x1="1910.3" y1="343.1" x2="1910.3" y2="414.7" stroke="#c63846" stroke-width="1.9"/>
<rect x="1904.7" y="378.6" width="11.2" height="35.7" fill="#f23645" stroke="#c63846" stroke-width="0.8"/>
<line x1="1924.3" y1="414.2" x2="1924.3" y2="429.8" stroke="#c63846" stroke-width="1.9"/>
<rect x="1918.7" y="414.6" width="11.2" height="14.8" fill="#f23645" stroke="#c63846" stroke-width="0.8"/>
<line x1="1938.4" y1="412.0" x2="1938.4" y2="435.0" stroke="#c63846" stroke-width="1.9"/>
<rect x="1932.8" y="429.2" width="11.2" height="0.9" fill="#f23645" stroke="#c63846" stroke-width="0.8"/>
<line x1="1952.5" y1="420.9" x2="1952.5" y2="435.7" stroke="#c63846" stroke-width="1.9"/>
<rect x="1946.9" y="430.5" width="11.2" height="4.8" fill="#f23645" stroke="#c63846" stroke-width="0.8"/>
<line x1="1966.5" y1="428.3" x2="1966.5" y2="441.6" stroke="#c63846" stroke-width="1.9"/>
<rect x="1960.9" y="435.7" width="11.2" height="1.5" fill="#f23645" stroke="#c63846" stroke-width="0.8"/>
</g>
<path d="M627 278.6h19.6M649.6 278.6h17.5" stroke="#101828" stroke-width="2.2"/>
<path d="M1541.2 704.4h18.1M1563.2 704.4h17.5" stroke="#101828" stroke-width="2.2"/>
<g clip-path="url(#cp)">
<rect x="75.9" y="858.5" width="11.4" height="29.3" fill="#ff0033" stroke="#d4062f" stroke-width="0.9"/>
<rect x="90.0" y="858.5" width="11.4" height="28.6" fill="#ff0033" stroke="#d4062f" stroke-width="0.9"/>
<rect x="104.0" y="858.5" width="11.4" height="28.2" fill="#ff0033" stroke="#d4062f" stroke-width="0.9"/>
<rect x="118.1" y="858.5" width="11.4" height="23.1" fill="#ff0033" stroke="#d4062f" stroke-width="0.9"/>
<rect x="132.2" y="858.5" width="11.4" height="17.1" fill="#ff0033" stroke="#d4062f" stroke-width="0.9"/>
<rect x="146.2" y="858.5" width="11.4" height="13.1" fill="#ff0033" stroke="#d4062f" stroke-width="0.9"/>
<rect x="160.3" y="858.5" width="11.4" height="10.2" fill="#ff0033" stroke="#d4062f" stroke-width="0.9"/>
<rect x="174.4" y="858.5" width="11.4" height="4.8" fill="#ff0033" stroke="#d4062f" stroke-width="0.9"/>
<rect x="188.4" y="858.5" width="11.4" height="2.2" fill="#ff0033" stroke="#d4062f" stroke-width="0.9"/>
<rect x="202.5" y="854.2" width="11.4" height="5.1" fill="#0cc9a3" stroke="#19b594" stroke-width="0.9"/>
<rect x="216.6" y="844.2" width="11.4" height="15.1" fill="#0cc9a3" stroke="#19b594" stroke-width="0.9"/>
<rect x="230.6" y="838.9" width="11.4" height="20.4" fill="#0cc9a3" stroke="#19b594" stroke-width="0.9"/>
<rect x="244.7" y="837.1" width="11.4" height="22.2" fill="#0cc9a3" stroke="#19b594" stroke-width="0.9"/>
<rect x="258.8" y="836.0" width="11.4" height="23.3" fill="#0cc9a3" stroke="#19b594" stroke-width="0.9"/>
<rect x="272.8" y="832.7" width="11.4" height="26.6" fill="#0cc9a3" stroke="#19b594" stroke-width="0.9"/>
<rect x="286.9" y="837.1" width="11.4" height="22.2" fill="#0cc9a3" stroke="#19b594" stroke-width="0.9"/>
<rect x="301.0" y="832.0" width="11.4" height="27.3" fill="#0cc9a3" stroke="#19b594" stroke-width="0.9"/>
<rect x="315.0" y="829.3" width="11.4" height="30.0" fill="#0cc9a3" stroke="#19b594" stroke-width="0.9"/>
<rect x="329.1" y="828.2" width="11.4" height="31.1" fill="#0cc9a3" stroke="#19b594" stroke-width="0.9"/>
<rect x="343.2" y="828.2" width="11.4" height="31.1" fill="#0cc9a3" stroke="#19b594" stroke-width="0.9"/>
<rect x="357.2" y="836.0" width="11.4" height="23.3" fill="#0cc9a3" stroke="#19b594" stroke-width="0.9"/>
<rect x="371.3" y="841.1" width="11.4" height="18.2" fill="#0cc9a3" stroke="#19b594" stroke-width="0.9"/>
<rect x="385.4" y="851.1" width="11.4" height="8.2" fill="#0cc9a3" stroke="#19b594" stroke-width="0.9"/>
<rect x="399.4" y="849.1" width="11.4" height="10.2" fill="#0cc9a3" stroke="#19b594" stroke-width="0.9"/>
<rect x="413.5" y="848.2" width="11.4" height="11.1" fill="#0cc9a3" stroke="#19b594" stroke-width="0.9"/>
<rect x="427.6" y="845.1" width="11.4" height="14.2" fill="#0cc9a3" stroke="#19b594" stroke-width="0.9"/>
<rect x="441.6" y="842.2" width="11.4" height="17.1" fill="#0cc9a3" stroke="#19b594" stroke-width="0.9"/>
<rect x="455.7" y="843.1" width="11.4" height="16.2" fill="#0cc9a3" stroke="#19b594" stroke-width="0.9"/>
<rect x="469.8" y="845.1" width="11.4" height="14.2" fill="#0cc9a3" stroke="#19b594" stroke-width="0.9"/>
<rect x="483.8" y="846.0" width="11.4" height="13.3" fill="#0cc9a3" stroke="#19b594" stroke-width="0.9"/>
<rect x="497.9" y="848.2" width="11.4" height="11.1" fill="#0cc9a3" stroke="#19b594" stroke-width="0.9"/>
<rect x="512.0" y="846.0" width="11.4" height="13.3" fill="#0cc9a3" stroke="#19b594" stroke-width="0.9"/>
<rect x="526.0" y="848.2" width="11.4" height="11.1" fill="#0cc9a3" stroke="#19b594" stroke-width="0.9"/>
<rect x="540.1" y="844.2" width="11.4" height="15.1" fill="#0cc9a3" stroke="#19b594" stroke-width="0.9"/>
<rect x="554.2" y="837.1" width="11.4" height="22.2" fill="#0cc9a3" stroke="#19b594" stroke-width="0.9"/>
<rect x="568.2" y="835.4" width="11.4" height="23.9" fill="#0cc9a3" stroke="#19b594" stroke-width="0.9"/>
<rect x="582.3" y="836.2" width="11.4" height="23.1" fill="#0cc9a3" stroke="#19b594" stroke-width="0.9"/>
<rect x="596.4" y="839.1" width="11.4" height="20.2" fill="#0cc9a3" stroke="#19b594" stroke-width="0.9"/>
<rect x="610.4" y="840.2" width="11.4" height="19.1" fill="#0cc9a3" stroke="#19b594" stroke-width="0.9"/>
<rect x="624.5" y="845.1" width="11.4" height="14.2" fill="#0cc9a3" stroke="#19b594" stroke-width="0.9"/>
<rect x="638.6" y="855.3" width="11.4" height="4.0" fill="#0cc9a3" stroke="#19b594" stroke-width="0.9"/>
<rect x="652.6" y="858.5" width="11.4" height="6.4" fill="#ff0033" stroke="#d4062f" stroke-width="0.9"/>
<rect x="666.7" y="858.5" width="11.4" height="14.4" fill="#ff0033" stroke="#d4062f" stroke-width="0.9"/>
<rect x="680.8" y="858.5" width="11.4" height="19.5" fill="#ff0033" stroke="#d4062f" stroke-width="0.9"/>
<rect x="694.8" y="858.5" width="11.4" height="23.5" fill="#ff0033" stroke="#d4062f" stroke-width="0.9"/>
<rect x="708.9" y="858.5" width="11.4" height="26.6" fill="#ff0033" stroke="#d4062f" stroke-width="0.9"/>
<rect x="723.0" y="858.5" width="11.4" height="24.6" fill="#ff0033" stroke="#d4062f" stroke-width="0.9"/>
<rect x="737.0" y="858.5" width="11.4" height="23.5" fill="#ff0033" stroke="#d4062f" stroke-width="0.9"/>
<rect x="751.1" y="858.5" width="11.4" height="22.6" fill="#ff0033" stroke="#d4062f" stroke-width="0.9"/>
<rect x="765.2" y="858.5" width="11.4" height="21.5" fill="#ff0033" stroke="#d4062f" stroke-width="0.9"/>
<rect x="779.2" y="858.5" width="11.4" height="20.4" fill="#ff0033" stroke="#d4062f" stroke-width="0.9"/>
<rect x="793.3" y="858.5" width="11.4" height="18.4" fill="#ff0033" stroke="#d4062f" stroke-width="0.9"/>
<rect x="807.4" y="858.5" width="11.4" height="16.6" fill="#ff0033" stroke="#d4062f" stroke-width="0.9"/>
<rect x="821.4" y="858.5" width="11.4" height="15.5" fill="#ff0033" stroke="#d4062f" stroke-width="0.9"/>
<rect x="835.5" y="858.5" width="11.4" height="14.4" fill="#ff0033" stroke="#d4062f" stroke-width="0.9"/>
<rect x="849.6" y="858.5" width="11.4" height="10.4" fill="#ff0033" stroke="#d4062f" stroke-width="0.9"/>
<rect x="863.6" y="858.5" width="11.4" height="8.4" fill="#ff0033" stroke="#d4062f" stroke-width="0.9"/>
<rect x="877.7" y="858.5" width="11.4" height="3.5" fill="#ff0033" stroke="#d4062f" stroke-width="0.9"/>
<rect x="891.8" y="858.5" width="11.4" height="2.6" fill="#ff0033" stroke="#d4062f" stroke-width="0.9"/>
<rect x="905.8" y="858.5" width="11.4" height="2.4" fill="#ff0033" stroke="#d4062f" stroke-width="0.9"/>
<rect x="919.9" y="858.5" width="11.4" height="2.4" fill="#ff0033" stroke="#d4062f" stroke-width="0.9"/>
<rect x="934.0" y="858.5" width="11.4" height="6.4" fill="#ff0033" stroke="#d4062f" stroke-width="0.9"/>
<rect x="948.0" y="858.5" width="11.4" height="10.4" fill="#ff0033" stroke="#d4062f" stroke-width="0.9"/>
<rect x="962.1" y="858.5" width="11.4" height="14.4" fill="#ff0033" stroke="#d4062f" stroke-width="0.9"/>
<rect x="976.2" y="858.5" width="11.4" height="25.5" fill="#ff0033" stroke="#d4062f" stroke-width="0.9"/>
<rect x="990.2" y="858.5" width="11.4" height="27.7" fill="#ff0033" stroke="#d4062f" stroke-width="0.9"/>
<rect x="1004.3" y="858.5" width="11.4" height="27.7" fill="#ff0033" stroke="#d4062f" stroke-width="0.9"/>
<rect x="1018.4" y="858.5" width="11.4" height="28.6" fill="#ff0033" stroke="#d4062f" stroke-width="0.9"/>
<rect x="1032.4" y="858.5" width="11.4" height="25.5" fill="#ff0033" stroke="#d4062f" stroke-width="0.9"/>
<rect x="1046.5" y="858.5" width="11.4" height="17.5" fill="#ff0033" stroke="#d4062f" stroke-width="0.9"/>
<rect x="1060.6" y="858.5" width="11.4" height="13.5" fill="#ff0033" stroke="#d4062f" stroke-width="0.9"/>
<rect x="1074.6" y="858.5" width="11.4" height="14.4" fill="#ff0033" stroke="#d4062f" stroke-width="0.9"/>
<rect x="1088.7" y="858.5" width="11.4" height="19.5" fill="#ff0033" stroke="#d4062f" stroke-width="0.9"/>
<rect x="1102.8" y="858.5" width="11.4" height="20.6" fill="#ff0033" stroke="#d4062f" stroke-width="0.9"/>
<rect x="1116.8" y="858.5" width="11.4" height="18.4" fill="#ff0033" stroke="#d4062f" stroke-width="0.9"/>
<rect x="1130.9" y="858.5" width="11.4" height="14.4" fill="#ff0033" stroke="#d4062f" stroke-width="0.9"/>
<rect x="1145.0" y="858.5" width="11.4" height="13.5" fill="#ff0033" stroke="#d4062f" stroke-width="0.9"/>
<rect x="1159.0" y="858.5" width="11.4" height="14.4" fill="#ff0033" stroke="#d4062f" stroke-width="0.9"/>
<rect x="1173.1" y="858.5" width="11.4" height="12.4" fill="#ff0033" stroke="#d4062f" stroke-width="0.9"/>
<rect x="1187.2" y="858.5" width="11.4" height="7.5" fill="#ff0033" stroke="#d4062f" stroke-width="0.9"/>
<rect x="1201.2" y="858.5" width="11.4" height="3.5" fill="#ff0033" stroke="#d4062f" stroke-width="0.9"/>
<rect x="1215.3" y="857.9" width="11.4" height="1.4" fill="#0cc9a3" stroke="#19b594" stroke-width="0.9"/>
<rect x="1229.4" y="858.5" width="11.4" height="3.5" fill="#ff0033" stroke="#d4062f" stroke-width="0.9"/>
<rect x="1243.4" y="858.5" width="11.4" height="9.5" fill="#ff0033" stroke="#d4062f" stroke-width="0.9"/>
<rect x="1257.5" y="858.5" width="11.4" height="10.4" fill="#ff0033" stroke="#d4062f" stroke-width="0.9"/>
<rect x="1271.6" y="858.5" width="11.4" height="10.4" fill="#ff0033" stroke="#d4062f" stroke-width="0.9"/>
<rect x="1285.6" y="858.5" width="11.4" height="7.5" fill="#ff0033" stroke="#d4062f" stroke-width="0.9"/>
<rect x="1299.7" y="858.5" width="11.4" height="6.4" fill="#ff0033" stroke="#d4062f" stroke-width="0.9"/>
<rect x="1313.8" y="856.9" width="11.4" height="2.4" fill="#0cc9a3" stroke="#19b594" stroke-width="0.9"/>
<rect x="1327.8" y="851.1" width="11.4" height="8.2" fill="#0cc9a3" stroke="#19b594" stroke-width="0.9"/>
<rect x="1341.9" y="845.1" width="11.4" height="14.2" fill="#0cc9a3" stroke="#19b594" stroke-width="0.9"/>
<rect x="1356.0" y="844.2" width="11.4" height="15.1" fill="#0cc9a3" stroke="#19b594" stroke-width="0.9"/>
<rect x="1370.0" y="846.2" width="11.4" height="13.1" fill="#0cc9a3" stroke="#19b594" stroke-width="0.9"/>
<rect x="1384.1" y="851.1" width="11.4" height="8.2" fill="#0cc9a3" stroke="#19b594" stroke-width="0.9"/>
<rect x="1398.2" y="854.2" width="11.4" height="5.1" fill="#0cc9a3" stroke="#19b594" stroke-width="0.9"/>
<rect x="1412.2" y="857.9" width="11.4" height="1.4" fill="#0cc9a3" stroke="#19b594" stroke-width="0.9"/>
<rect x="1426.3" y="858.5" width="11.4" height="7.5" fill="#ff0033" stroke="#d4062f" stroke-width="0.9"/>
<rect x="1440.4" y="858.5" width="11.4" height="8.4" fill="#ff0033" stroke="#d4062f" stroke-width="0.9"/>
<rect x="1454.4" y="858.5" width="11.4" height="9.5" fill="#ff0033" stroke="#d4062f" stroke-width="0.9"/>
<rect x="1468.5" y="858.5" width="11.4" height="7.5" fill="#ff0033" stroke="#d4062f" stroke-width="0.9"/>
<rect x="1482.6" y="858.5" width="11.4" height="7.5" fill="#ff0033" stroke="#d4062f" stroke-width="0.9"/>
<rect x="1496.6" y="858.5" width="11.4" height="5.5" fill="#ff0033" stroke="#d4062f" stroke-width="0.9"/>
<rect x="1510.7" y="858.5" width="11.4" height="3.5" fill="#ff0033" stroke="#d4062f" stroke-width="0.9"/>
<rect x="1524.8" y="858.5" width="11.4" height="1.5" fill="#ff0033" stroke="#d4062f" stroke-width="0.9"/>
<rect x="1538.8" y="858.5" width="11.4" height="18.4" fill="#ff0033" stroke="#d4062f" stroke-width="0.9"/>
<rect x="1552.9" y="858.5" width="11.4" height="24.6" fill="#ff0033" stroke="#d4062f" stroke-width="0.9"/>
<rect x="1567.0" y="858.5" width="11.4" height="22.6" fill="#ff0033" stroke="#d4062f" stroke-width="0.9"/>
<rect x="1581.0" y="858.5" width="11.4" height="21.5" fill="#ff0033" stroke="#d4062f" stroke-width="0.9"/>
<rect x="1595.1" y="858.5" width="11.4" height="18.4" fill="#ff0033" stroke="#d4062f" stroke-width="0.9"/>
<rect x="1609.2" y="858.5" width="11.4" height="15.5" fill="#ff0033" stroke="#d4062f" stroke-width="0.9"/>
<rect x="1623.2" y="858.5" width="11.4" height="14.4" fill="#ff0033" stroke="#d4062f" stroke-width="0.9"/>
<rect x="1637.3" y="858.5" width="11.4" height="3.5" fill="#ff0033" stroke="#d4062f" stroke-width="0.9"/>
<rect x="1651.4" y="851.1" width="11.4" height="8.2" fill="#0cc9a3" stroke="#19b594" stroke-width="0.9"/>
<rect x="1665.4" y="845.1" width="11.4" height="14.2" fill="#0cc9a3" stroke="#19b594" stroke-width="0.9"/>
<rect x="1679.5" y="840.2" width="11.4" height="19.1" fill="#0cc9a3" stroke="#19b594" stroke-width="0.9"/>
<rect x="1693.6" y="835.3" width="11.4" height="24.0" fill="#0cc9a3" stroke="#19b594" stroke-width="0.9"/>
<rect x="1707.6" y="836.2" width="11.4" height="23.1" fill="#0cc9a3" stroke="#19b594" stroke-width="0.9"/>
<rect x="1721.7" y="815.3" width="11.4" height="44.0" fill="#0cc9a3" stroke="#19b594" stroke-width="0.9"/>
<rect x="1735.8" y="803.3" width="11.4" height="56.0" fill="#0cc9a3" stroke="#19b594" stroke-width="0.9"/>
<rect x="1749.8" y="797.3" width="11.4" height="62.0" fill="#0cc9a3" stroke="#19b594" stroke-width="0.9"/>
<rect x="1763.9" y="792.5" width="11.4" height="66.8" fill="#0cc9a3" stroke="#19b594" stroke-width="0.9"/>
<rect x="1778.0" y="791.6" width="11.4" height="67.7" fill="#0cc9a3" stroke="#19b594" stroke-width="0.9"/>
<rect x="1792.0" y="793.3" width="11.4" height="66.0" fill="#0cc9a3" stroke="#19b594" stroke-width="0.9"/>
<rect x="1806.1" y="798.5" width="11.4" height="60.8" fill="#0cc9a3" stroke="#19b594" stroke-width="0.9"/>
<rect x="1820.2" y="807.3" width="11.4" height="52.0" fill="#0cc9a3" stroke="#19b594" stroke-width="0.9"/>
<rect x="1834.2" y="816.5" width="11.4" height="42.8" fill="#0cc9a3" stroke="#19b594" stroke-width="0.9"/>
<rect x="1848.3" y="825.3" width="11.4" height="34.0" fill="#0cc9a3" stroke="#19b594" stroke-width="0.9"/>
<rect x="1862.4" y="831.3" width="11.4" height="28.0" fill="#0cc9a3" stroke="#19b594" stroke-width="0.9"/>
<rect x="1876.4" y="835.3" width="11.4" height="24.0" fill="#0cc9a3" stroke="#19b594" stroke-width="0.9"/>
<rect x="1890.5" y="842.2" width="11.4" height="17.1" fill="#0cc9a3" stroke="#19b594" stroke-width="0.9"/>
<rect x="1904.6" y="852.2" width="11.4" height="7.1" fill="#0cc9a3" stroke="#19b594" stroke-width="0.9"/>
<rect x="1918.6" y="858.5" width="11.4" height="3.5" fill="#ff0033" stroke="#d4062f" stroke-width="0.9"/>
<rect x="1932.7" y="858.5" width="11.4" height="10.4" fill="#ff0033" stroke="#d4062f" stroke-width="0.9"/>
<rect x="1946.8" y="858.5" width="11.4" height="15.5" fill="#ff0033" stroke="#d4062f" stroke-width="0.9"/>
<rect x="1960.8" y="858.5" width="11.4" height="19.5" fill="#ff0033" stroke="#d4062f" stroke-width="0.9"/>
<polyline points="80.0,897.3 95.7,903.8 109.7,910.5 123.8,911.4 137.9,909.2 151.9,907.9 166.0,907.6 180.1,903.7 194.1,901.6 208.2,894.7 222.3,881.6 236.3,871.8 250.4,864.6 264.5,857.0 278.5,847.9 292.6,846.8 306.7,835.3 320.7,824.5 334.8,815.2 348.9,808.0 362.9,809.4 377.0,810.3 391.1,818.4 405.1,814.3 419.2,810.8 433.3,804.2 447.3,797.0 461.4,794.1 475.5,792.6 489.5,790.3 503.6,789.6 517.7,784.2 531.7,783.5 545.8,776.1 559.9,763.0 573.9,755.5 588.0,752.3 602.1,749.6 616.1,746.3 630.2,748.3 644.3,757.6 658.3,768.1 672.4,779.4 686.5,788.5 700.5,798.2 714.6,807.2 728.7,810.8 742.7,815.2 756.8,819.9 770.9,823.9 784.9,827.9 799.0,830.8 813.1,833.4 827.1,836.1 841.2,838.3 855.3,836.6 869.3,836.3 883.4,832.3 897.5,831.9 911.5,832.1 925.6,832.6 939.7,838.1 953.7,844.3 967.8,851.2 981.9,867.8 995.9,876.7 1010.0,883.4 1024.1,891.3 1038.1,894.1 1052.2,890.3 1066.3,889.7 1080.3,894.6 1094.4,904.1 1108.5,910.1 1122.5,912.3 1136.6,911.9 1150.7,914.3 1164.7,918.3 1178.8,918.8 1192.9,915.0 1206.9,911.4 1221.0,907.3 1235.1,912.5 1249.1,920.8 1263.2,923.9 1277.3,926.1 1291.3,924.8 1305.4,924.8 1319.5,916.3 1333.5,908.3 1347.6,899.0 1361.7,894.7 1375.7,893.4 1389.8,896.5 1403.9,898.7 1417.9,902.2 1432.0,912.1 1446.1,914.8 1460.1,917.9 1474.2,917.7 1488.3,919.2 1502.3,918.3 1516.4,917.0 1530.5,915.0 1544.5,935.8 1558.6,947.6 1572.7,951.5 1586.7,956.1 1600.8,958.6 1614.9,959.0 1628.9,960.1 1643.0,949.2 1657.1,936.8 1671.1,927.9 1685.2,918.5 1699.3,908.1 1713.3,903.0 1727.4,871.3 1741.5,845.1 1755.5,822.4 1769.6,800.8 1783.7,783.5 1797.7,769.5 1811.8,760.2 1825.9,755.7 1839.9,753.7 1854.0,753.6 1868.1,753.1 1882.1,751.4 1896.2,754.3 1910.3,762.7 1924.3,773.2 1938.4,782.3 1952.5,791.2 1966.5,800.0" fill="none" stroke="#45a2ef" stroke-width="2.8" stroke-linejoin="round" stroke-linecap="round"/>
<polyline points="80.0,868.7 95.7,875.6 109.7,882.7 123.8,888.7 137.9,892.5 151.9,895.2 166.0,897.8 180.1,899.3 194.1,899.8 208.2,899.4 222.3,896.3 236.3,891.8 250.4,886.4 264.5,879.9 278.5,874.1 292.6,868.6 306.7,862.2 320.7,854.1 334.8,845.9 348.9,838.7 362.9,832.3 377.0,828.1 391.1,826.2 405.1,824.1 419.2,821.5 433.3,818.0 447.3,813.7 461.4,809.9 475.5,806.4 489.5,803.2 503.6,800.3 517.7,797.1 531.7,794.2 545.8,790.8 559.9,784.8 573.9,779.0 588.0,775.0 602.1,769.4 616.1,765.0 630.2,762.1 644.3,761.2 658.3,762.1 672.4,765.4 686.5,769.4 700.5,775.1 714.6,781.0 728.7,786.6 742.7,792.1 756.8,797.7 770.9,802.8 784.9,807.9 799.0,812.8 813.1,817.2 827.1,821.0 841.2,824.3 855.3,826.6 869.3,828.3 883.4,829.2 897.5,829.7 911.5,830.1 925.6,830.6 939.7,832.1 953.7,834.3 967.8,837.2 981.9,842.7 995.9,849.4 1010.0,856.1 1024.1,863.1 1038.1,869.0 1052.2,873.2 1066.3,876.6 1080.3,880.6 1094.4,885.0 1108.5,889.9 1122.5,894.3 1136.6,897.9 1150.7,901.2 1164.7,904.3 1178.8,906.8 1192.9,907.9 1206.9,908.3 1221.0,908.3 1235.1,909.4 1249.1,911.7 1263.2,913.9 1277.3,916.1 1291.3,917.7 1305.4,918.8 1319.5,918.3 1333.5,916.1 1347.6,912.8 1361.7,909.4 1375.7,906.1 1389.8,904.3 1403.9,903.4 1417.9,903.2 1432.0,905.0 1446.1,906.8 1460.1,908.8 1474.2,910.6 1488.3,912.1 1502.3,913.2 1516.4,913.9 1530.5,913.9 1544.5,917.8 1558.6,923.4 1572.7,929.3 1586.7,935.0 1600.8,940.6 1614.9,943.9 1628.9,946.1 1643.0,946.1 1657.1,944.6 1671.1,941.7 1685.2,937.2 1699.3,931.7 1713.3,925.7 1727.4,914.9 1741.5,900.7 1755.5,884.0 1769.6,867.2 1783.7,850.8 1797.7,835.1 1811.8,820.6 1825.9,807.3 1839.9,796.1 1854.0,787.2 1868.1,780.7 1882.1,775.0 1896.2,771.0 1910.3,769.4 1924.3,770.1 1938.4,772.3 1952.5,776.1 1966.5,780.9" fill="none" stroke="#eadd6c" stroke-width="2.8" stroke-linejoin="round" stroke-linecap="round"/>
</g>
</svg>
<div class="abs ipill" style="left:108px;top:284px;width:365px;height:79.6px"></div>
<div class="abs ipill" style="left:108px;top:752.8px;width:396.5px;height:80px"></div>
<svg class="abs" style="left:0;top:0" width="600" height="900" viewBox="0 0 600 900" fill="none" stroke="#0b1f46" stroke-width="3.3" stroke-linecap="round" stroke-linejoin="round">
<path d="M429.8 312.2L439.2 321L429.8 329.8"/>
<path d="M461.6 780.4L471 790L461.6 799.4"/>
</svg>
<svg id="txt" class="abs" style="left:0;top:0" width="2340" height="1080" viewBox="0 0 2340 1080">
<text id="sym" transform="translate(115.06,91.95) scale(1.0921,1)" font-family="Liberation Sans, sans-serif" font-weight="400" font-size="43.04" fill="#0a1f44" stroke="#0a1f44" stroke-width="1.5" stroke-linejoin="round">EURUSD</text>
<text id="px" transform="translate(435.49,91.95) scale(1.0193,1)" font-family="Liberation Sans, sans-serif" font-weight="400" font-size="43.04" fill="#0a1f44" stroke="#0a1f44" stroke-width="1.5" stroke-linejoin="round">1.13454</text>
<text id="chg" transform="translate(648.59,89.64999999999999) scale(1.0778,1)" font-family="Liberation Sans, sans-serif" font-weight="400" font-size="37.43" fill="#e20f3d" stroke="#e20f3d" stroke-width="1.3" stroke-linejoin="round">-0.00199 (-0.18%)</text>
<text id="tm" transform="translate(1029.71,89.1) scale(0.9631,1)" font-family="Liberation Sans, sans-serif" font-weight="400" font-size="34.14" fill="#76839a">08:49:21</text>
<text id="tf0" transform="translate(79.43,211.2) scale(1.1157,1)" font-family="Liberation Sans, sans-serif" font-weight="400" font-size="34.35" fill="#6b7b93">Tick Chart</text>
<text id="tf1" transform="translate(353.66,211.2) scale(1.048,1)" font-family="Liberation Sans, sans-serif" font-weight="400" font-size="34.64" fill="#6b7b93">1m</text>
<text id="tf2" transform="translate(560.99,211.2) scale(1.165,1)" font-family="Liberation Sans, sans-serif" font-weight="400" font-size="34.64" fill="#6b7b93">5m</text>
<text id="tf3" transform="translate(765.12,211.2) scale(1.0625,1)" font-family="Liberation Sans, sans-serif" font-weight="400" font-size="34.64" fill="#6b7b93">15m</text>
<text id="tf4" transform="translate(972.05,211.2) scale(1.2175,1)" font-family="Liberation Sans, sans-serif" font-weight="400" font-size="34.14" fill="#6b7b93">30m</text>
<text id="tf5" transform="translate(1209.16,215.4) scale(0.903,1)" font-family="Liberation Sans, sans-serif" font-weight="700" font-size="43.19" fill="#ffffff">1h</text>
<text id="tf6" transform="translate(1388.7,211.0) scale(1.1689,1)" font-family="Liberation Sans, sans-serif" font-weight="400" font-size="34.43" fill="#6b7b93">4h</text>
<text id="tf7" transform="translate(1592.56,211.2) scale(0.963,1)" font-family="Liberation Sans, sans-serif" font-weight="400" font-size="34.64" fill="#6b7b93">1D</text>
<text id="tf8" transform="translate(1798.07,211.2) scale(1.0011,1)" font-family="Liberation Sans, sans-serif" font-weight="400" font-size="34.64" fill="#6b7b93">1W</text>
<text id="tf9" transform="translate(2005.01,211.2) scale(1.1503,1)" font-family="Liberation Sans, sans-serif" font-weight="400" font-size="34.64" fill="#6b7b93">MN</text>
<text id="ma1" transform="translate(139.64,335.65) scale(1.1241,1)" font-family="Liberation Sans, sans-serif" font-weight="400" font-size="35.36" fill="#3a3a3c" stroke="#3a3a3c" stroke-width="1.1" stroke-linejoin="round">MA</text>
<text id="ma2" transform="translate(208.11,332.7) scale(1.0132,1)" font-family="Liberation Sans, sans-serif" font-weight="400" font-size="26.09" fill="#3a3a3c">(5,10,30)</text>
<text id="mc1" transform="translate(139.66,804.45) scale(1.1075,1)" font-family="Liberation Sans, sans-serif" font-weight="400" font-size="35.51" fill="#3a3a3c" stroke="#3a3a3c" stroke-width="1.1" stroke-linejoin="round">MACD</text>
<text id="mc2" transform="translate(264.04,801.4) scale(0.9964,1)" font-family="Liberation Sans, sans-serif" font-weight="400" font-size="26.09" fill="#3a3a3c">(12,26,9)</text>
<text id="mx" transform="translate(668.3,289.4) scale(0.9833,1)" font-family="Liberation Sans, sans-serif" font-weight="400" font-size="28.99" fill="#101828">1.14175</text>
<text id="mn" transform="translate(1582.42,714.9) scale(0.998,1)" font-family="Liberation Sans, sans-serif" font-weight="400" font-size="28.41" fill="#101828">1.1223</text>
<text id="y318" transform="translate(2061.71,328.8) scale(0.9893,1)" font-family="Liberation Sans, sans-serif" font-weight="400" font-size="28.7" fill="#a9b1bf">1.14000</text>
<text id="y427" transform="translate(2061.71,437.8) scale(0.9893,1)" font-family="Liberation Sans, sans-serif" font-weight="400" font-size="28.7" fill="#a9b1bf">1.13500</text>
<text id="y536" transform="translate(2061.71,546.8) scale(0.9893,1)" font-family="Liberation Sans, sans-serif" font-weight="400" font-size="28.7" fill="#a9b1bf">1.13000</text>
<text id="y624" transform="translate(2061.71,634.8) scale(0.9893,1)" font-family="Liberation Sans, sans-serif" font-weight="400" font-size="28.7" fill="#a9b1bf">1.12600</text>
<text id="y712" transform="translate(2061.71,722.8) scale(0.9893,1)" font-family="Liberation Sans, sans-serif" font-weight="400" font-size="28.7" fill="#a9b1bf">1.12200</text>
<text id="y767" transform="translate(2062.86,777.8) scale(0.9923,1)" font-family="Liberation Sans, sans-serif" font-weight="400" font-size="28.29" fill="#a9b1bf">0.00200</text>
<text id="y858" transform="translate(2062.86,869.3) scale(0.9923,1)" font-family="Liberation Sans, sans-serif" font-weight="400" font-size="28.29" fill="#a9b1bf">0.00000</text>
<text id="y950" transform="translate(2062.59,960.8) scale(0.9845,1)" font-family="Liberation Sans, sans-serif" font-weight="400" font-size="28.29" fill="#a9b1bf">−0.00200</text>
<text id="d166" transform="translate(128.5,1019.8) scale(1.0389,1)" font-family="Liberation Sans, sans-serif" font-weight="700" font-size="29.0" fill="#a9b1bf">23/05</text>
<text id="d504" transform="translate(466.5,1019.8) scale(1.0389,1)" font-family="Liberation Sans, sans-serif" font-weight="700" font-size="29.0" fill="#a9b1bf">26/05</text>
<text id="d841" transform="translate(803.5,1019.8) scale(1.0389,1)" font-family="Liberation Sans, sans-serif" font-weight="700" font-size="29.0" fill="#a9b1bf">27/05</text>
<text id="d1179" transform="translate(1141.5,1019.8) scale(1.0389,1)" font-family="Liberation Sans, sans-serif" font-weight="700" font-size="29.0" fill="#a9b1bf">28/05</text>
<text id="d1516" transform="translate(1478.5,1019.8) scale(1.0389,1)" font-family="Liberation Sans, sans-serif" font-weight="700" font-size="29.0" fill="#a9b1bf">29/05</text>
<text id="d1854" transform="translate(1816.8,1019.8) scale(1.0346,1)" font-family="Liberation Sans, sans-serif" font-weight="700" font-size="29.0" fill="#a9b1bf">30/05</text>
</svg>
</body></html>
